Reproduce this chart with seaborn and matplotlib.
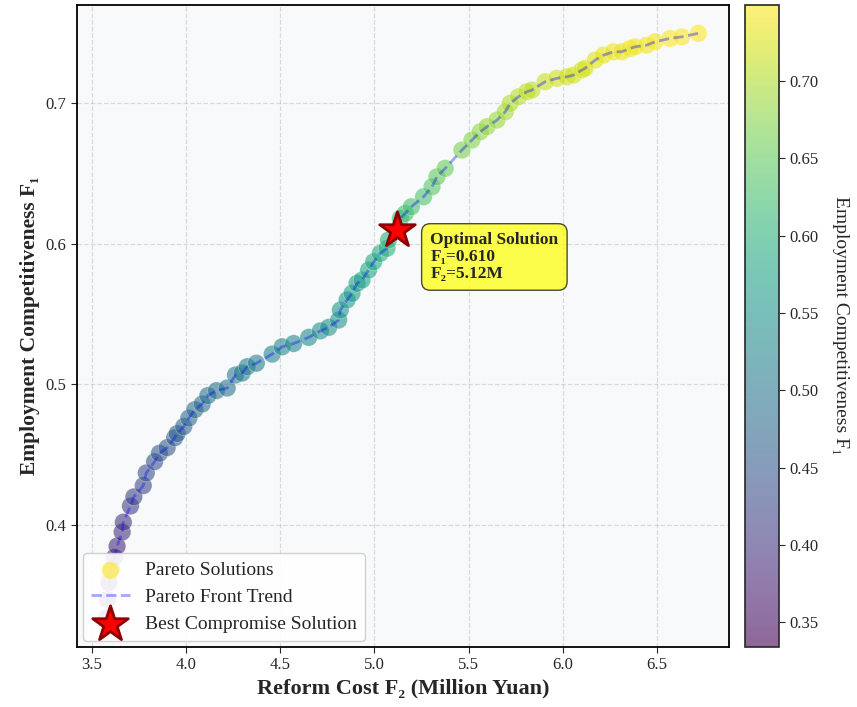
import numpy as np
import pandas as pd
import matplotlib
matplotlib.use("Agg")
import matplotlib.pyplot as plt
import seaborn as sns
from matplotlib.colors import ListedColormap, Normalize
from matplotlib.cm import ScalarMappable

# ---- data ----
cost = [3.576, 3.582, 3.590, 3.603, 3.619, 3.633, 3.660, 3.666, 3.704, 3.722,
        3.772, 3.788, 3.832, 3.858, 3.899, 3.939, 3.952, 3.987, 4.014, 4.046,
        4.085, 4.115, 4.161, 4.218, 4.262, 4.297, 4.324, 4.373, 4.457, 4.510,
        4.571, 4.651, 4.713, 4.757, 4.810, 4.819, 4.855, 4.881, 4.908, 4.934,
        4.969, 4.996, 5.031, 5.067, 5.075, 5.138, 5.164, 5.196, 5.261, 5.306,
        5.332, 5.376, 5.465, 5.518, 5.562, 5.598, 5.651, 5.695, 5.721, 5.765,
        5.810, 5.837, 5.907, 5.969, 6.022, 6.057, 6.102, 6.119, 6.173, 6.217,
        6.270, 6.314, 6.358, 6.385, 6.447, 6.491, 6.571, 6.633, 6.721]
compet = [0.334, 0.347, 0.359, 0.369, 0.377, 0.385, 0.395, 0.402, 0.4135, 0.420,
          0.428, 0.437, 0.445, 0.451, 0.455, 0.462, 0.465, 0.470, 0.476, 0.482,
          0.486, 0.492, 0.4955, 0.4974, 0.5066, 0.508, 0.5125, 0.515, 0.5215, 0.5267,
          0.529, 0.5334, 0.538, 0.5405, 0.5457, 0.5528, 0.560, 0.5647, 0.5718, 0.5741,
          0.5812, 0.5871, 0.5931, 0.5967, 0.6026, 0.618, 0.6215, 0.6262, 0.6333, 0.6404,
          0.6475, 0.6535, 0.6665, 0.6736, 0.6795, 0.6831, 0.6878, 0.6937, 0.6997, 0.7044,
          0.708, 0.7092, 0.7151, 0.7175, 0.7186, 0.7198, 0.7234, 0.7246, 0.7305, 0.734,
          0.7364, 0.7364, 0.7388, 0.7399, 0.7411, 0.7435, 0.7459, 0.747, 0.7495]
best_cost = [5.12]
best_compet = [0.610]
cbar_ticks = [0.35, 0.40, 0.45, 0.50, 0.55, 0.60, 0.65, 0.70]

df = pd.DataFrame({"cost": cost, "compet": compet})

sns.set_style("ticks")
plt.rcParams["font.family"] = ["Liberation Serif", "DejaVu Serif"]

fig = plt.figure(figsize=(8.57, 7.07), dpi=100)
ax = fig.add_axes([77 / 857, 60 / 707, 652 / 857, 642.5 / 707])
cax = fig.add_axes([745 / 857, 60 / 707, 34 / 857, 642.5 / 707])
ax.set_facecolor("#f8f9fa")

vmin, vmax = min(compet), max(compet)
norm = Normalize(vmin, vmax)
base = plt.get_cmap("viridis")

sns.scatterplot(data=df, x="cost", y="compet", hue="compet", palette="viridis",
                hue_norm=norm, s=160, alpha=0.6, edgecolor="white", linewidth=0.3,
                legend=False, ax=ax, label="Pareto Solutions", zorder=2)
sns.lineplot(data=df, x="cost", y="compet", color="blue", alpha=0.35, linestyle="--",
             linewidth=2, ax=ax, label="Pareto Front Trend", zorder=3)
ax.scatter(best_cost, best_compet, marker="*", s=720, color="red", edgecolor="darkred",
           linewidth=2, zorder=5, label="Best Compromise Solution")

ax.annotate(f"Optimal Solution\nF\u2081={best_compet[0]:.3f}\nF\u2082={best_cost[0]:.2f}M",
            xy=(best_cost[0], best_compet[0]), xytext=(24, -2), textcoords="offset points",
            ha="left", va="top", fontsize=12.5, fontweight="bold", linespacing=1.05,
            bbox=dict(boxstyle="round,pad=0.5", facecolor="yellow", alpha=0.7,
                      edgecolor="black", linewidth=1), zorder=6)

ax.set_xlim(3.42, 6.884)
ax.set_ylim(0.3133, 0.770)
ax.set_xticks([3.5, 4.0, 4.5, 5.0, 5.5, 6.0, 6.5])
ax.set_yticks([0.4, 0.5, 0.6, 0.7])
ax.tick_params(labelsize=12, length=4)
ax.grid(True, linestyle="--", color="gray", alpha=0.25, linewidth=0.9)
for sp in ax.spines.values():
    sp.set_visible(True)
    sp.set_color("black")
    sp.set_linewidth(1.3)

ax.set_xlabel("Reform Cost F\u2082 (Million Yuan)", fontsize=16, fontweight="bold")
ax.set_ylabel("Employment Competitiveness F\u2081", fontsize=15.5, fontweight="bold")

leg = ax.legend(loc="lower left", fontsize=14, framealpha=0.9, fancybox=True,
                borderaxespad=0.3)
leg.legend_handles[0].set_facecolor(base(1.0))
leg.legend_handles[0].set_alpha(0.6)

cm_alpha = ListedColormap(base(np.linspace(0, 1, 256)) * [1, 1, 1, 0] + [0, 0, 0, 0.6])
sm = ScalarMappable(norm=norm, cmap=cm_alpha)
sm.set_array([])
cbar = fig.colorbar(sm, cax=cax)
cbar.set_ticks(cbar_ticks)
cbar.set_ticklabels([f"{t:.2f}" for t in cbar_ticks])
cbar.ax.tick_params(labelsize=12, length=4)
cbar.outline.set_linewidth(1.2)
cbar.set_label("Employment Competitiveness F\u2081", rotation=270, labelpad=22, fontsize=14)

fig.savefig("out.png", dpi=100)
